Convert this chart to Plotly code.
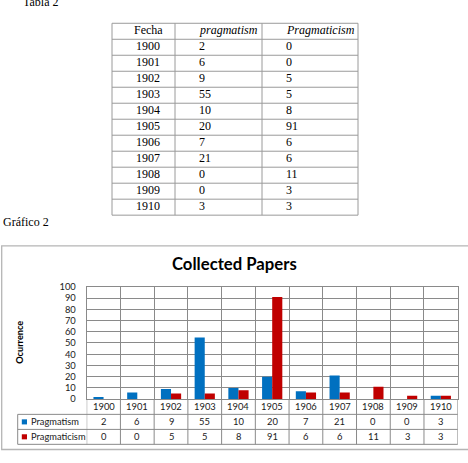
import plotly.graph_objects as go

# ---------------- data ----------------
years = ["1900", "1901", "1902", "1903", "1904", "1905", "1906", "1907", "1908", "1909", "1910"]
pragmatism = [2, 6, 9, 55, 10, 20, 7, 21, 0, 0, 3]
pragmaticism = [0, 0, 5, 5, 8, 91, 6, 6, 11, 3, 3]
series_names = ["Pragmatism", "Pragmaticism"]
table_headers = ["Fecha", "pragmatism", "Pragmaticism"]
chart_title = "Collected Papers"
y_title = "Ocurrence"
y_ticks = [0, 10, 20, 30, 40, 50, 60, 70, 80, 90, 100]

W, H = 468, 463
def px(x):
    return x / W
def py(y):
    return 1 - y / H

BLUE = "#0070C0"
RED = "#C00000"
GRID = "#8A8A8A"
TLINE = "#9A9A9A"
SERIF = "Liberation Serif"
SANS = "Lato"
SMALL = 9.4

fig = go.Figure()

# --- bars ---
fig.add_trace(go.Bar(x=years, y=pragmatism, name=series_names[0],
                     marker=dict(color=BLUE, line=dict(width=0))))
fig.add_trace(go.Bar(x=years, y=pragmaticism, name=series_names[1],
                     marker=dict(color=RED, line=dict(width=0))))

annotations = []
shapes = []

def hline(x0, x1, y, color=TLINE, w=1):
    shapes.append(dict(type="line", xref="paper", yref="paper", x0=px(x0), x1=px(x1),
                       y0=py(y), y1=py(y), line=dict(color=color, width=w)))

def vline(x, y0, y1, color=TLINE, w=1):
    shapes.append(dict(type="line", xref="paper", yref="paper", x0=px(x), x1=px(x),
                       y0=py(y0), y1=py(y1), line=dict(color=color, width=w)))

# ---------- top table (Tabla 2) ----------
t_cols = [112, 175, 262, 358]
t_top, t_row = 17.7, 16.38
n_rows = len(years) + 1
for k in range(n_rows + 1):
    hline(t_cols[0], t_cols[-1], t_top + k * t_row)
for i, xc in enumerate(t_cols):
    vline(xc, t_top, t_top + n_rows * t_row)

rows = [table_headers] + [[y, str(a), str(b)] for y, a, b in zip(years, pragmatism, pragmaticism)]
for r, row in enumerate(rows):
    yc = t_top + (r + 0.5) * t_row - 0.8
    for c, val in enumerate(row):
        txt = val
        if r == 0 and c > 0:
            txt = "<i>" + val + "</i>"
        if c == 0:
            annotations.append(dict(text=txt, x=px(148), xanchor="center"))
        else:
            annotations.append(dict(text=txt, x=px(t_cols[c] + 21.5), xanchor="left"))
        annotations[-1].update(y=py(yc), yanchor="middle", xref="paper", yref="paper",
                               showarrow=False,
                               font=dict(family=SERIF, size=12, color="black"))

# ---------- data table under chart ----------
plot_l, plot_r = 86.7, 457.7
plot_t, plot_b = 287.7, 402.7
leg_l = 17.7
row_lines = [418.3, 433.7, 449.0]
for yl in row_lines:
    hline(leg_l, plot_r, yl, color=GRID)
vline(leg_l, row_lines[0], row_lines[-1], color=GRID)
for i in range(len(years) + 1):
    shapes.append(dict(type="line", xref="x", yref="paper", x0=i - 0.5, x1=i - 0.5,
                       y0=py(plot_b), y1=py(row_lines[-1]), line=dict(color=GRID, width=1)))

row_centers = [410.7, 426.0, 441.3]
for i, yr in enumerate(years):
    for yc, val in zip(row_centers, [yr, str(pragmatism[i]), str(pragmaticism[i])]):
        annotations.append(dict(text=val, x=i, xref="x", y=py(yc), yref="paper",
                                xanchor="center", yanchor="middle", showarrow=False,
                                font=dict(family=SANS, size=SMALL, color="#1A1A1A")))

# legend keys in the table
for yc, name, col in zip(row_centers[1:], series_names, [BLUE, RED]):
    shapes.append(dict(type="rect", xref="paper", yref="paper", x0=px(21.8), x1=px(27),
                       y0=py(yc + 2.6), y1=py(yc - 2.6), fillcolor=col, line=dict(width=0)))
    annotations.append(dict(text=name, x=px(28.6), xref="paper", y=py(yc), yref="paper",
                            xanchor="left", yanchor="middle", showarrow=False,
                            font=dict(family=SANS, size=9.3, color="#1A1A1A")))

# ---------- texts ----------
annotations += [
    dict(text="Tabla 2", x=px(20.5), y=py(5.0), xref="paper", yref="paper",
         xanchor="left", yanchor="bottom", showarrow=False,
         font=dict(family=SERIF, size=12, color="black")),
    dict(text="Gráfico 2", x=px(1.0), y=py(221.7), xref="paper", yref="paper",
         xanchor="left", yanchor="middle", showarrow=False,
         font=dict(family=SERIF, size=12, color="black")),
    dict(text="<b>" + chart_title + "</b>", x=px(234.7), y=py(264.3), xref="paper", yref="paper",
         xanchor="center", yanchor="middle", showarrow=False,
         font=dict(family=SANS, size=16.7, color="black")),
    dict(text="<b>" + y_title + "</b>", x=px(20), y=py(345), xref="paper", yref="paper",
         xanchor="center", yanchor="middle", showarrow=False, textangle=-90,
         font=dict(family=SANS, size=9.2, color="black")),
]

shapes.append(dict(type="rect", xref="paper", yref="paper", x0=px(1.7), x1=px(475),
                   y0=py(454.3), y1=py(245.7), line=dict(color="#B5B5B5", width=1.3),
                   layer="below"))

fig.update_layout(
    width=W, height=H, margin=dict(l=0, r=0, t=0, b=0),
    paper_bgcolor="white", plot_bgcolor="white",
    barmode="group", bargap=0.4, bargroupgap=0, showlegend=False,
    xaxis=dict(type="category", domain=[px(plot_l), px(plot_r)], tickson="boundaries",
               range=[-0.5, len(years) - 0.5],
               showgrid=True, gridcolor=GRID, gridwidth=1, showticklabels=False,
               ticks="", showline=True, linecolor=GRID, mirror=True, fixedrange=True),
    yaxis=dict(domain=[py(plot_b), py(plot_t)], range=[0, 100], tickvals=y_ticks,
               showgrid=True, gridcolor=GRID, gridwidth=1, zeroline=False,
               showline=True, linecolor=GRID, mirror=True, ticks="",
               ticklabelstandoff=8, fixedrange=True,
               tickfont=dict(family=SANS, size=SMALL, color="#1A1A1A")),
    annotations=annotations,
    shapes=shapes,
)

fig.write_html("out.html")
